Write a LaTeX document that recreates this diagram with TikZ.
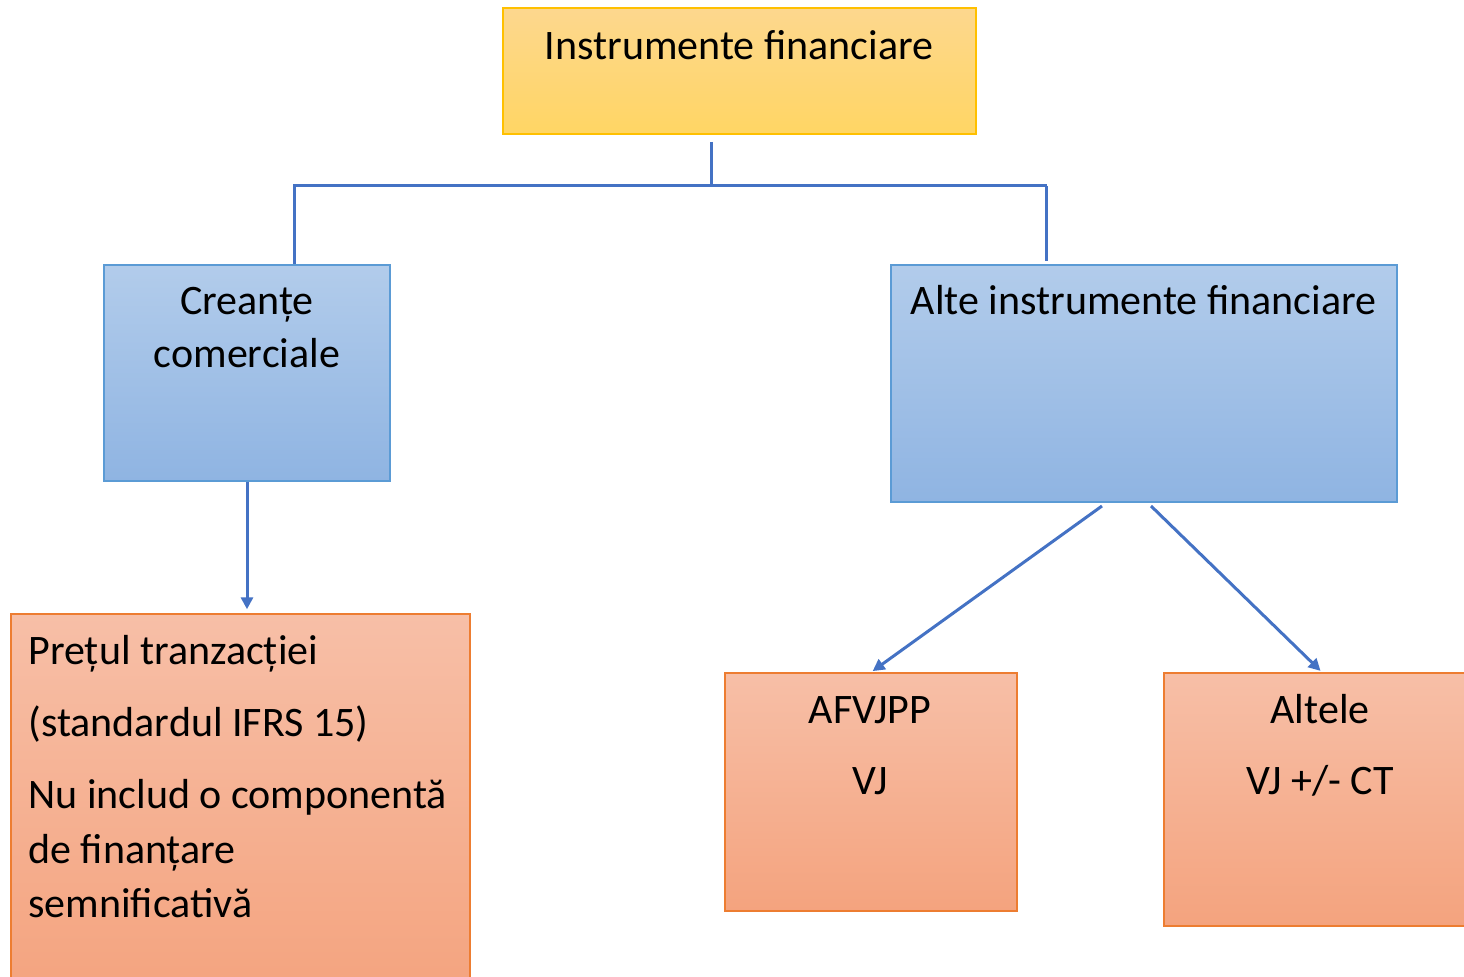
\documentclass[tikz,border=0pt]{standalone}
\usepackage{fontspec}
\setmainfont{Carlito}
\usetikzlibrary{arrows.meta,calc}
\definecolor{conn}{RGB}{68,114,196}
\definecolor{ytop}{RGB}{253,215,142}
\definecolor{ybot}{RGB}{255,214,100}
\definecolor{yedge}{RGB}{255,192,0}
\definecolor{btop}{RGB}{178,204,235}
\definecolor{bbot}{RGB}{143,180,226}
\definecolor{bedge}{RGB}{91,155,213}
\definecolor{otop}{RGB}{247,191,167}
\definecolor{obot}{RGB}{244,163,126}
\definecolor{oedge}{RGB}{237,125,49}
\tikzset{
  box/.style={rectangle, inner sep=0pt, line width=0.7pt, shading=axis, shading angle=0},
  ybox/.style={box, draw=yedge, top color=ytop, bottom color=ybot},
  bbox/.style={box, draw=bedge, top color=btop, bottom color=bbot},
  obox/.style={box, draw=oedge, top color=otop, bottom color=obot},
  txt/.style={inner sep=0pt, font=\fontsize{21pt}{26pt}\selectfont, anchor=base},
  ltxt/.style={txt, anchor=base west},
  link/.style={draw=conn, line width=1.5pt},
  arr/.style={link, -{Triangle[length=6pt,width=6pt]}}
}
\begin{document}
\begin{tikzpicture}[x=0.5pt,y=-0.5pt]
\useasboundingbox (0,0) rectangle (1464,977);
\clip (0,0) rectangle (1464,977);
% boxes
\node[ybox, minimum width=236.5pt, minimum height=63pt] (top) at (739.5,71) {};
\node[bbox, minimum width=143pt, minimum height=108pt] (cre) at (247,373) {};
\node[bbox, minimum width=253pt, minimum height=118.5pt] (alte) at (1144,383.5) {};
\node[obox, minimum width=229.5pt, minimum height=193pt] (pret) at (240.5,807) {};
\node[obox, minimum width=146pt, minimum height=119pt] (afv) at (871,792) {};
\node[obox, minimum width=158pt, minimum height=126.5pt] (alt) at (1322,799.5) {};
% texts
\node[txt] (t1) at (739,60) {Instrumente financiare};
\node[txt] (t2) at (247,315) {Creanțe};
\node[txt] (t3) at (247,368) {comerciale};
\node[txt] (t4) at (1143.5,315) {Alte instrumente financiare};
\node[ltxt] (t5) at (28,665) {Prețul tranzacției};
\node[ltxt] (t6) at (28,737) {(standardul IFRS 15)};
\node[ltxt] (t7) at (28,809) {Nu includ o componentă};
\node[ltxt] (t8) at (28,864) {de finanțare};
\node[ltxt] (t9) at (28,918) {semnificativă};
\node[txt] (t10) at (870,724) {AFVJPP};
\node[txt] (t11) at (870,795) {VJ};
\node[txt] (t12) at (1320,724) {Altele};
\node[txt] (t13) at (1320,795) {VJ +/- CT};
% connectors
\coordinate (t0) at (711,142);
\coordinate (busC) at (711,186);
\coordinate (busL) at (293,186);
\coordinate (busR) at (1047,186);
\coordinate (a1) at (1102,506);
\coordinate (a2) at (1151,506);
\draw[link] (t0) -- (busC);
\draw[link] (busL) -- (busR);
\draw[link] (294,186) -- (294,264);
\draw[link] (1046,186) -- (1046,261);
\draw[arr, shorten >=2pt] (cre.south) -- (cre.south |- pret.north);
\draw[arr, shorten >=1pt] (a1) -- (afv.north);
\draw[arr, shorten >=1pt] (a2) -- (alt.north);
\end{tikzpicture}
\end{document}
